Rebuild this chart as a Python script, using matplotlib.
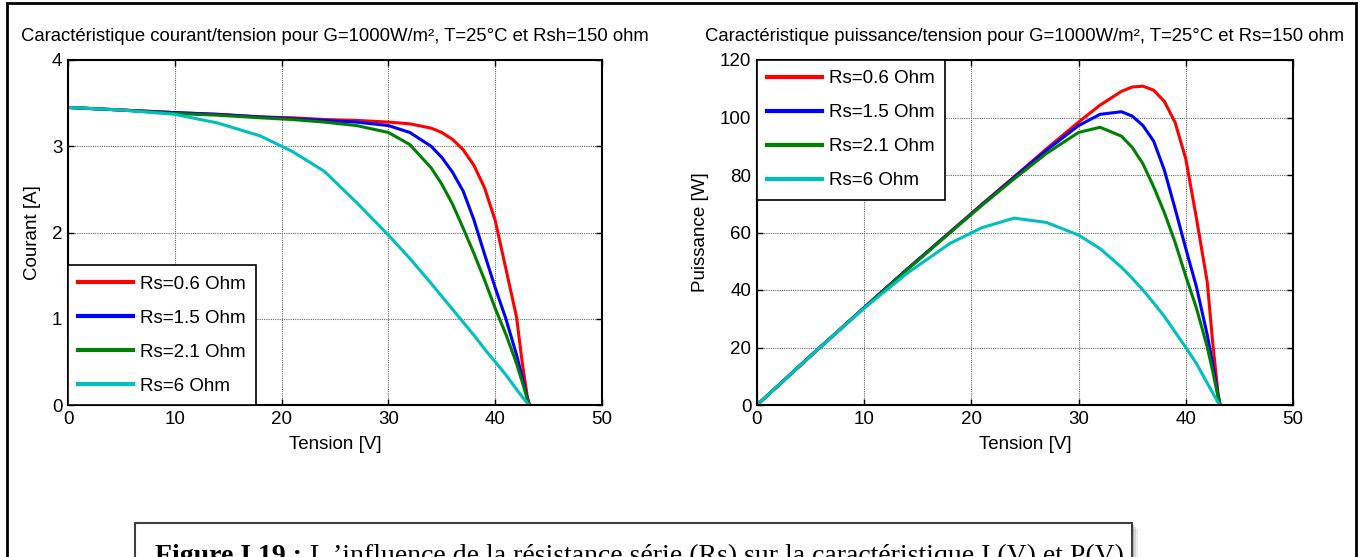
import matplotlib
matplotlib.use("Agg")
import matplotlib.pyplot as plt
from matplotlib.patches import Rectangle

plt.rcParams["font.family"] = ["Liberation Sans", "DejaVu Sans"]

# Voltage points (V)
tension = [0, 5, 10, 14, 18, 21, 24, 27, 30, 32, 34, 35, 36, 37, 38, 39, 40, 41, 42, 42.5, 43, 43.2]

# Current (A) for each series resistance
courant_06 = [3.45, 3.42, 3.39, 3.37, 3.34, 3.33, 3.31, 3.30, 3.28, 3.26, 3.21, 3.16, 3.08, 2.96, 2.78, 2.52,
              2.14, 1.58, 1.02, 0.52, 0.10, 0.0]
courant_15 = [3.45, 3.42, 3.39, 3.37, 3.34, 3.32, 3.30, 3.28, 3.24, 3.16, 3.00, 2.87, 2.70, 2.48, 2.15, 1.75,
              1.36, 1.00, 0.58, 0.34, 0.08, 0.0]
courant_21 = [3.45, 3.42, 3.38, 3.36, 3.33, 3.31, 3.28, 3.24, 3.16, 3.02, 2.75, 2.56, 2.33, 2.05, 1.76, 1.45,
              1.12, 0.82, 0.48, 0.28, 0.07, 0.0]
courant_6 = [3.45, 3.42, 3.37, 3.27, 3.12, 2.94, 2.71, 2.35, 1.97, 1.70, 1.41, 1.26, 1.11, 0.96, 0.81, 0.65,
             0.50, 0.35, 0.18, 0.10, 0.02, 0.0]

# Power (W) for each series resistance
puissance_06 = [0, 17.1, 33.9, 47.2, 60.1, 69.9, 79.4, 89.1, 98.4, 104.3, 109.1, 110.6, 110.9, 109.5, 105.6,
                98.3, 85.6, 64.8, 42.8, 22.1, 4.3, 0]
puissance_15 = [0, 17.1, 33.9, 47.2, 60.1, 69.7, 79.2, 88.6, 97.2, 101.1, 102.0, 100.5, 97.2, 91.8, 81.7,
                68.3, 54.4, 41.0, 24.4, 14.5, 3.4, 0]
puissance_21 = [0, 17.1, 33.8, 47.0, 59.9, 69.5, 78.7, 87.5, 94.8, 96.6, 93.5, 89.6, 83.9, 75.9, 66.9,
                56.6, 44.8, 33.6, 20.2, 11.9, 3.0, 0]
puissance_6 = [0, 17.1, 33.7, 45.8, 56.2, 61.7, 65.0, 63.5, 59.1, 54.4, 47.9, 44.1, 40.0, 35.5, 30.8,
               25.4, 20.0, 14.4, 7.6, 4.3, 0.9, 0]

labels = ["Rs=0.6 Ohm", "Rs=1.5 Ohm", "Rs=2.1 Ohm", "Rs=6 Ohm"]
colors = ["#ff0000", "#0000ff", "#008000", "#00bfbf"]

W, H = 1360, 557
fig = plt.figure(figsize=(W / 100, H / 100), dpi=100)


def fig_box(x0, y0, x1, y1):
    # pixel box (top-left origin) -> figure fraction rect
    return [x0 / W, 1 - y1 / H, (x1 - x0) / W, (y1 - y0) / H]


ax1 = fig.add_axes(fig_box(68, 60, 602, 405))
ax2 = fig.add_axes(fig_box(757, 60, 1293, 405))


def style(ax, title, ylabel, ylim, yticks):
    ax.set_xlim(0, 50)
    ax.set_ylim(*ylim)
    ax.set_xticks([0, 10, 20, 30, 40, 50])
    ax.set_yticks(yticks)
    ax.tick_params(direction="in", length=4, width=1, top=True, right=True, labelsize=13.5, pad=4)
    ax.grid(True, color="0.4", linestyle=(0, (1, 1)), linewidth=0.8)
    ax.set_axisbelow(True)
    for sp in ax.spines.values():
        sp.set_linewidth(1.5)
    ax.set_title(title, fontsize=13.3, pad=14)
    ax.set_xlabel("Tension [V]", fontsize=13.5, labelpad=6)
    ax.set_ylabel(ylabel, fontsize=13.5, labelpad=8)


style(ax1, "Caractéristique courant/tension pour G=1000W/m², T=25°C et Rsh=150 ohm",
      "Courant [A]", (0, 4), [0, 1, 2, 3, 4])
style(ax2, "Caractéristique puissance/tension pour G=1000W/m², T=25°C et Rs=150 ohm",
      "Puissance [W]", (0, 120), [0, 20, 40, 60, 80, 100, 120])

for cur, lab, col in zip([courant_06, courant_15, courant_21, courant_6], labels, colors):
    ax1.plot(tension, cur, color=col, lw=2.2, label=lab)
for pw, lab, col in zip([puissance_06, puissance_15, puissance_21, puissance_6], labels, colors):
    ax2.plot(tension, pw, color=col, lw=2.2, label=lab)

leg_kw = dict(fontsize=13.5, fancybox=False, edgecolor="black", framealpha=1,
              borderaxespad=0, handlelength=2.9, handletextpad=0.4, labelspacing=0.9, borderpad=0.55)
l1 = ax1.legend(loc="lower left", **leg_kw)
l2 = ax2.legend(loc="upper left", **leg_kw)
for lg in (l1, l2):
    lg.get_frame().set_linewidth(1.2)
    for ln in lg.get_lines():
        ln.set_linewidth(3)

# outer frame of the figure
fig.add_artist(Rectangle((7 / W, -0.05), 1349 / W, 1.05 - 3 / H, transform=fig.transFigure,
                         fill=False, edgecolor="black", lw=2))

# caption box with soft shadow
for i, a in enumerate([0.10, 0.15, 0.22]):
    off = 6 - 2 * i
    fig.add_artist(Rectangle((135 / W + off / W, -0.05), 997 / W, 1.05 - (523 + off) / H,
                             transform=fig.transFigure, facecolor="0.3", alpha=a, edgecolor="none"))
fig.add_artist(Rectangle((135 / W, -0.05), 997 / W, 1.05 - 523 / H, transform=fig.transFigure,
                         facecolor="white", edgecolor="0.25", lw=1.5))
t_bold = fig.text(155 / W, 1 - 563 / H, "Figure I.19 :", fontsize=20, fontweight="bold",
                  family=["Liberation Serif"], va="baseline", ha="left")
fig.canvas.draw()
bb = t_bold.get_window_extent()
fig.text((bb.x1 + 8) / W, 1 - 563 / H,
         "L ’influence de la résistance série (Rs) sur la caractéristique I (V) et P(V)",
         fontsize=20, family=["Liberation Serif"], va="baseline", ha="left")

fig.savefig("out.png", dpi=100)
